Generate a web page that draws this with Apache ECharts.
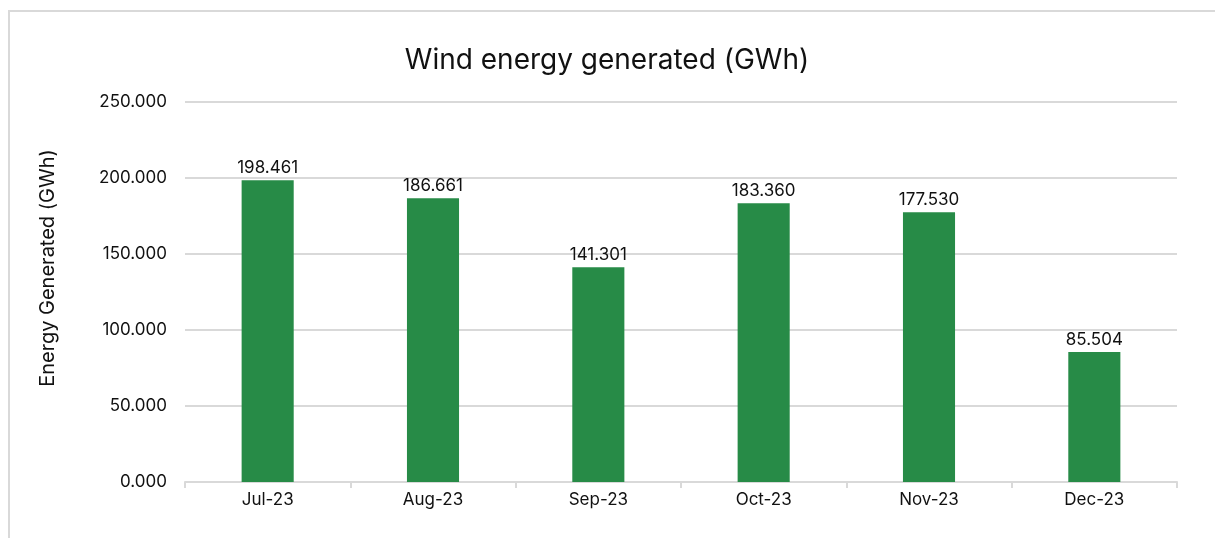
<!DOCTYPE html>
<html>
<head>
<meta charset="utf-8">
<script src="https://cdn.jsdelivr.net/npm/echarts@6/dist/echarts.min.js"></script>
<style>
html, body { margin: 0; padding: 0; background: #fff; }
#frame { position: absolute; left: 8px; top: 10px; width: 1215px; height: 540px; border: 2px solid #d9d9d9; box-sizing: border-box; }
#chart { position: absolute; left: 0; top: 0; width: 1215px; height: 538px; }
</style>
</head>
<body>
<div id="frame"></div>
<div id="chart"></div>
<script>
// 月份
var months = ['Jul-23', 'Aug-23', 'Sep-23', 'Oct-23', 'Nov-23', 'Dec-23'];
// 风电发电量 (GWh)
var windEnergy = [198.461, 186.661, 141.301, 183.360, 177.530, 85.504];

var chart = echarts.init(document.getElementById('chart'));
var font = 'Inter, "Noto Sans", sans-serif';

var option = {
	animation : false,
	title : {
		text : 'Wind energy generated (GWh)',
		left : 602,
		textAlign : 'center',
		top : 42,
		textStyle : {
			fontFamily : font,
			fontSize : 28,
			fontWeight : 'normal',
			color : '#111'
		}
	},
	grid : {
		left : 185,
		right : 38,
		top : 102,
		bottom : 56
	},
	xAxis : {
		type : 'category',
		data : months,
		axisLine : { lineStyle : { color : '#d9d9d9', width : 2 } },
		axisTick : { show : true, length : 6, lineStyle : { color : '#d9d9d9', width : 2 } },
		axisLabel : {
			fontFamily : font,
			fontSize : 17,
			color : '#111',
			margin : 9
		}
	},
	yAxis : {
		type : 'value',
		min : 0,
		max : 250,
		interval : 50,
		name : 'Energy Generated (GWh)',
		nameLocation : 'middle',
		nameGap : 127,
		nameTextStyle : {
			fontFamily : font,
			fontSize : 20,
			color : '#111',
			padding : [0, 0, 0, 48]
		},
		axisLine : { show : false },
		axisTick : { show : false },
		splitLine : { lineStyle : { color : '#d9d9d9', width : 2 } },
		axisLabel : {
			fontFamily : font,
			fontSize : 17,
			color : '#111',
			margin : 18,
			formatter : function(v) { return v.toFixed(3); }
		}
	},
	series : [ {
		type : 'bar',
		data : windEnergy,
		barWidth : '31.5%',
		itemStyle : { color : '#278b47' },
		label : {
			show : true,
			position : 'top',
			distance : 4,
			fontFamily : font,
			fontSize : 17,
			color : '#111',
			formatter : function(p) { return p.value.toFixed(3); }
		}
	} ]
};

chart.setOption(option);
</script>
</body>
</html>
